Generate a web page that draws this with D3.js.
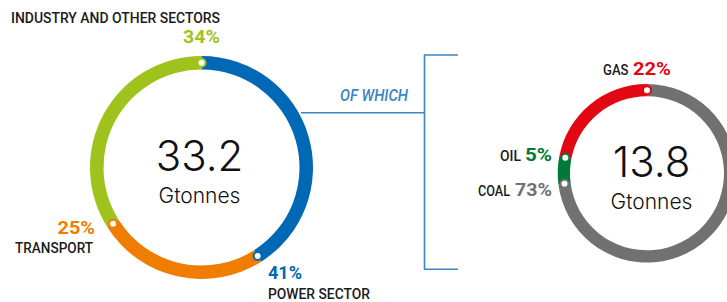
<!DOCTYPE html>
<html>
<head>
<meta charset="utf-8">
<style>
  body { margin: 0; background: #fff; }
  .lbl { font-family: Roboto, "DejaVu Sans Condensed", sans-serif; font-weight: 500; }
  .pct { font-family: Roboto, "DejaVu Sans Condensed", sans-serif; font-weight: 700; }
  .big { font-family: Inter, "Noto Sans", sans-serif; font-weight: 300; }
</style>
</head>
<body>
<svg id="chart" width="727" height="302"></svg>
<script src="https://cdn.jsdelivr.net/npm/d3@7"></script>
<script>
  // emissions split, all sources
  const totalCats = ["POWER SECTOR", "TRANSPORT", "INDUSTRY AND OTHER SECTORS"]
  const totalShares = [41, 25, 34]
  const totalValue = "33.2"

  // of which power sector, by fuel
  const powerCats = ["COAL", "OIL", "GAS"]
  const powerShares = [73, 5, 22]
  const powerValue = "13.8"

  const unit = "Gtonnes"

  const svg = d3.select("#chart")

  const pie = d3.pie().sort(null).value(d => d.v)

  function ring(cx, cy, rOut, rIn, cats, shares, colors) {
    let g = svg.append("g").attr("transform", `translate(${cx},${cy})`)
    let color = d3.scaleOrdinal().domain(cats).range(colors)
    let arc = d3.arc().innerRadius(rIn).outerRadius(rOut)
    let slices = pie(cats.map((c, i) => ({ c: c, v: shares[i] })))

    g.selectAll("path")
      .data(slices)
      .enter().append("path")
      .attr("d", arc)
      .attr("fill", d => color(d.data.c))

    // white dot at the end of every slice
    let rMid = (rOut + rIn) / 2
    g.selectAll("circle")
      .data(slices)
      .enter().append("circle")
      .attr("cx", d => rMid * Math.sin(d.endAngle))
      .attr("cy", d => -rMid * Math.cos(d.endAngle))
      .attr("r", 4)
      .attr("fill", "#fff")
      .attr("stroke", d => color(d.data.c))
      .attr("stroke-width", 2)
    return color
  }

  let cLeft = ring(201.5, 167.5, 111.5, 98, totalCats, totalShares, ["#0068b4", "#ef7d00", "#9fc31c"])
  let cRight = ring(647, 173.3, 89.3, 77, powerCats, powerShares, ["#717171", "#00793a", "#e30613"])

  // centre numbers
  function centre(x, y, val) {
    svg.append("text").attr("class", "big")
      .attr("x", x).attr("y", y).attr("text-anchor", "middle")
      .attr("font-size", 42).attr("fill", "#111").text(val)
    svg.append("text").attr("class", "big")
      .attr("x", x).attr("y", y + 32).attr("text-anchor", "middle")
      .attr("font-size", 21).attr("fill", "#111").text(unit)
  }
  centre(199.5, 170.7, totalValue)
  centre(651.5, 177.3, powerValue)

  // labels are squeezed to the width of the condensed face in the original
  function label(x, y, txt, col, w, cls, size) {
    return svg.append("text").attr("class", cls || "lbl")
      .attr("x", x).attr("y", y)
      .attr("font-size", size || 15)
      .attr("textLength", w).attr("lengthAdjust", "spacingAndGlyphs")
      .attr("fill", col).text(txt)
  }
  const dark = "#1a1a1a"

  // left ring labels
  label(11, 22.7, totalCats[2], dark, 209)
  label(183, 43.3, totalShares[2] + "%", cLeft(totalCats[2]), 37, "pct", 18)
  label(57.5, 234, totalShares[1] + "%", cLeft(totalCats[1]), 37.5, "pct", 18)
  label(15, 253.3, totalCats[1], dark, 78)
  label(268, 279, totalShares[0] + "%", cLeft(totalCats[0]), 34, "pct", 18)
  label(268, 299, totalCats[0], dark, 102)

  // right ring labels
  label(603, 75, powerCats[2], dark, 25.5)
  label(633, 75, powerShares[2] + "%", cRight(powerCats[2]), 38, "pct", 18)
  label(500, 161, powerCats[1], dark, 21)
  label(525, 161, powerShares[1] + "%", cRight(powerCats[1]), 27, "pct", 18)
  label(478, 195.7, powerCats[0], dark, 32)
  label(515, 195.7, powerShares[0] + "%", cRight(powerCats[0]), 37, "pct", 18)

  // bracket linking power sector to its breakdown
  const lineCol = "#3a85c6"
  let bx = 424.5, by0 = 55, by1 = 269.3, ly = 112.7
  svg.append("path")
    .attr("d", `M${458},${by0}H${bx}V${by1}H${458}M${bx},${ly}H${301}`)
    .attr("fill", "none").attr("stroke", lineCol).attr("stroke-width", 1.6)
  label(340, 101, "OF WHICH", lineCol, 68, "lbl", 16)
    .attr("font-style", "italic").attr("font-weight", 400)
</script>
</body>
</html>
